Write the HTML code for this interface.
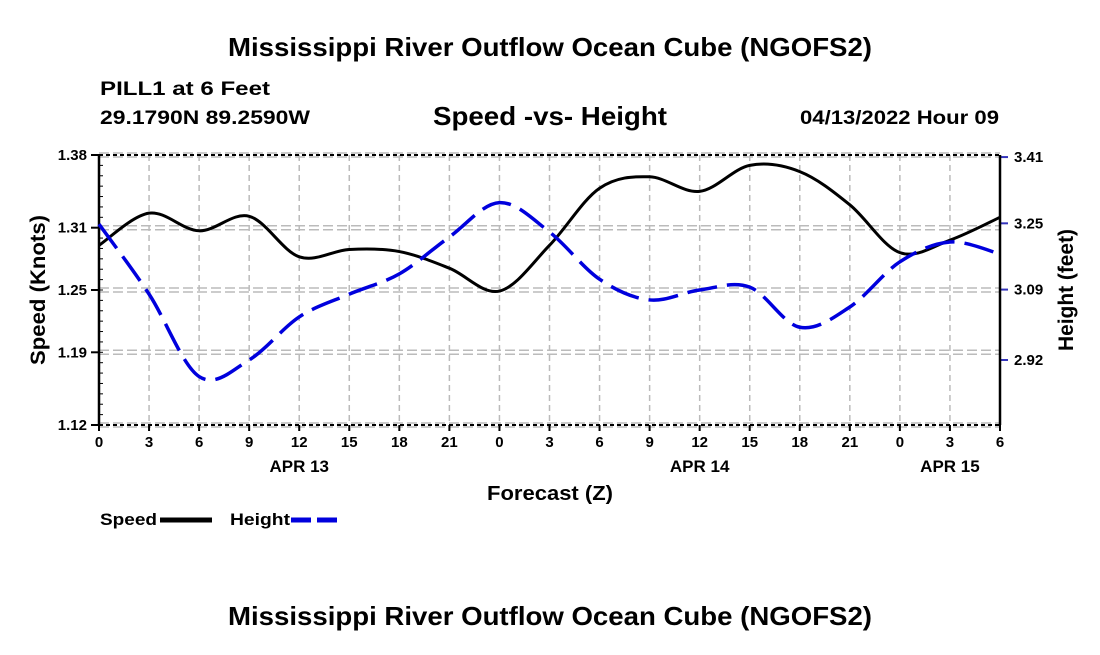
<!DOCTYPE html>
<html><head><meta charset="utf-8"><style>
body{margin:0;background:#fff;}
svg text{font-family:"Liberation Sans",Arial,sans-serif;font-weight:bold;fill:#000;}
</style></head><body>
<svg width="1100" height="650" xmlns="http://www.w3.org/2000/svg">
<text x="550" y="56" text-anchor="middle" font-size="26" textLength="644" lengthAdjust="spacingAndGlyphs">Mississippi River Outflow Ocean Cube (NGOFS2)</text>
<text x="100" y="95" font-size="19" textLength="170" lengthAdjust="spacingAndGlyphs">PILL1 at 6 Feet</text>
<text x="100" y="124" font-size="19" textLength="210" lengthAdjust="spacingAndGlyphs">29.1790N  89.2590W</text>
<text x="550" y="125" text-anchor="middle" font-size="26" textLength="234" lengthAdjust="spacingAndGlyphs">Speed -vs- Height</text>
<text x="999" y="124" text-anchor="end" font-size="19" textLength="199" lengthAdjust="spacingAndGlyphs">04/13/2022 Hour 09</text>
<g id="grid"></g>
<g id="axes"></g>
<g id="series"></g>
<text transform="translate(45,290) rotate(-90)" text-anchor="middle" font-size="21" textLength="150" lengthAdjust="spacingAndGlyphs">Speed (Knots)</text>
<text transform="translate(1073,290) rotate(-90)" text-anchor="middle" font-size="21" textLength="122" lengthAdjust="spacingAndGlyphs">Height (feet)</text>
<text x="550" y="500" text-anchor="middle" font-size="20" textLength="126" lengthAdjust="spacingAndGlyphs">Forecast (Z)</text>
<g>
<text x="100" y="525" font-size="17" textLength="57" lengthAdjust="spacingAndGlyphs">Speed</text>
<line x1="160" y1="520" x2="212" y2="520" stroke="#000" stroke-width="5"/>
<text x="230" y="525" font-size="17" textLength="60" lengthAdjust="spacingAndGlyphs">Height</text>
<line x1="291" y1="520" x2="343" y2="520" stroke="#0000dd" stroke-width="5" stroke-dasharray="20,6"/>
</g>
<text x="550" y="625" text-anchor="middle" font-size="26" textLength="644" lengthAdjust="spacingAndGlyphs">Mississippi River Outflow Ocean Cube (NGOFS2)</text>
</svg>
<script>
const hours=[0,3,6,9,12,15,18,21,24,27,30,33,36,39,42,45,48,51,54];
const xTickLabels=["0","3","6","9","12","15","18","21","0","3","6","9","12","15","18","21","0","3","6"];
const dayLabels=[{h:12,t:"APR 13"},{h:36,t:"APR 14"},{h:51,t:"APR 15"}];
const speed=[1.293,1.324,1.307,1.321,1.282,1.289,1.287,1.271,1.249,1.293,1.348,1.359,1.345,1.370,1.364,1.332,1.286,1.298,1.320];
const height=[3.248,3.079,2.880,2.920,3.024,3.079,3.128,3.217,3.300,3.229,3.115,3.065,3.089,3.096,2.999,3.048,3.157,3.205,3.176];
const speedTicks=[1.12,1.19,1.25,1.31,1.38];
const heightTicks=[2.92,3.09,3.25,3.41];
const X0=99,X1=1000,Y0=155,Y1=425;
const sMin=1.12,sMax=1.38,hMin=2.763,hMax=3.415;
const xs=h=>X0+(h-0)/54*(X1-X0);
const ys=v=>Y1-(v-sMin)/(sMax-sMin)*(Y1-Y0);
const yh=v=>Y1-(v-hMin)/(hMax-hMin)*(Y1-Y0);
const NS="http://www.w3.org/2000/svg";
function mk(p,tag,a){const e=document.createElementNS(NS,tag);for(const k in a)e.setAttribute(k,a[k]);p.appendChild(e);return e;}
const grid=document.getElementById('grid'),axes=document.getElementById('axes'),ser=document.getElementById('series');
hours.forEach((h,i)=>{
  const l=mk(grid,'line',{x1:xs(h),x2:xs(h),y1:Y0,y2:Y1,stroke:'#bbb','stroke-width':1.5,'stroke-dasharray':'6,4'});
  
  
  const t=mk(axes,'line',{x1:xs(h),x2:xs(h),y1:Y1,y2:Y1+6,stroke:'#000','stroke-width':2});
  
  
  const tx=mk(axes,'text',{x:xs(h),y:Y1+22,'text-anchor':'middle','font-size':15});
  tx.textContent=xTickLabels[i];
  
  
});
dayLabels.forEach(d=>{
  const t=mk(axes,'text',{x:xs(d.h),y:Y1+47,'text-anchor':'middle','font-size':17});
  t.textContent=d.t;
  
  
});
speedTicks.forEach(v=>{
  const y=ys(v);
  [y-2,y+2].forEach(yy=>{const g=mk(grid,'line',{x1:X0,x2:X1,y1:yy,y2:yy,stroke:'#bbb','stroke-width':1.5,'stroke-dasharray':'10,4'});
  
  });
  const t=mk(axes,'text',{x:X0-12,y:y+5,'text-anchor':'end','font-size':15});
  t.textContent=v.toFixed(2);
  
  
  mk(axes,'line',{x1:X0-8,x2:X0,y1:y,y2:y,stroke:'#000','stroke-width':2});
});
for(let i=0;i<=26;i++){const y=Y0+i*(Y1-Y0)/26;mk(axes,'line',{x1:X0,x2:X0+4,y1:y,y2:y,stroke:'#000','stroke-width':1});}
heightTicks.forEach(v=>{
  const y=yh(v);
  mk(axes,'line',{x1:X1,x2:X1+8,y1:y,y2:y,stroke:'#3333bb','stroke-width':2});
  const t=mk(axes,'text',{x:X1+14,y:y+5,'font-size':15});
  t.textContent=v.toFixed(2);
  
  
});
mk(axes,'line',{x1:X0,x2:X1,y1:Y0,y2:Y0,stroke:'#000','stroke-width':2,'stroke-dasharray':'4,3'});
mk(axes,'line',{x1:X0,x2:X1,y1:Y1,y2:Y1,stroke:'#000','stroke-width':2,'stroke-dasharray':'4,3'});
mk(axes,'line',{x1:X0,x2:X0,y1:Y0,y2:Y1,stroke:'#000','stroke-width':2.5});
mk(axes,'line',{x1:X1,x2:X1,y1:Y0,y2:Y1,stroke:'#000','stroke-width':2.5});
function smooth(pts){let d=`M${pts[0][0]},${pts[0][1]}`;
  for(let i=0;i<pts.length-1;i++){const p0=pts[i-1]||pts[i],p1=pts[i],p2=pts[i+1],p3=pts[i+2]||p2;
    d+=` C${p1[0]+(p2[0]-p0[0])/6},${p1[1]+(p2[1]-p0[1])/6} ${p2[0]-(p3[0]-p1[0])/6},${p2[1]-(p3[1]-p1[1])/6} ${p2[0]},${p2[1]}`;}
  return d;}
const sp=mk(ser,'path',{d:smooth(hours.map((h,i)=>[xs(h),ys(speed[i])])),fill:'none',stroke:'#000','stroke-width':3});


const hp=mk(ser,'path',{d:smooth(hours.map((h,i)=>[xs(h),yh(height[i])])),fill:'none',stroke:'#0000dd','stroke-width':3.5,'stroke-dasharray':'30,10'});


</script>
</body></html>
